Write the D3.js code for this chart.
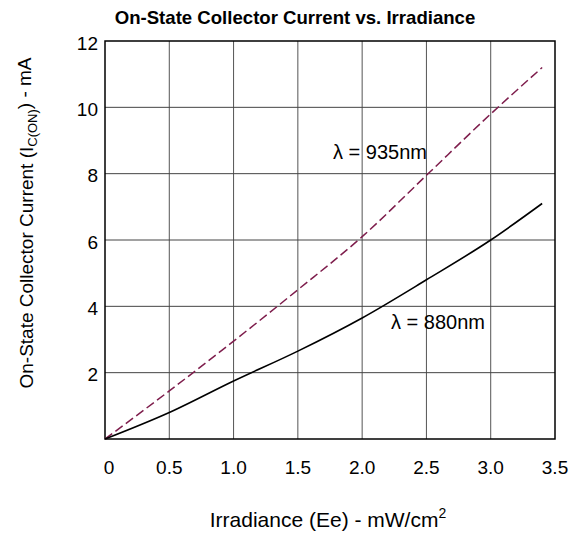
<!DOCTYPE html>
<html>
<head>
<meta charset="utf-8">
<script src="https://cdn.jsdelivr.net/npm/d3@7"></script>
<style>
  body { margin: 0; background: #fff; }
  text { font-family: Arial, "Liberation Sans", sans-serif; }
</style>
</head>
<body>
<div id="chart"></div>
<script>
// valores
const irradiance = [0, 0.5, 1.0, 1.5, 2.0, 2.5, 3.0, 3.4];
const current935 = [0, 1.45, 2.95, 4.5, 6.1, 7.95, 9.8, 11.2];
const current880 = [0, 0.8, 1.75, 2.65, 3.65, 4.8, 6.0, 7.1];
const xTicks = [0, 0.5, 1.0, 1.5, 2.0, 2.5, 3.0, 3.5];
const xTickLabels = ["0", "0.5", "1.0", "1.5", "2.0", "2.5", "3.0", "3.5"];
const yTicks = [2, 4, 6, 8, 10, 12];

const WIDTH = 582;
const HEIGHT = 533;
const MARGIN = { top: 41, right: 27, bottom: 94, left: 105 };

const svg = d3.select("#chart").append("svg")
  .attr("width", WIDTH).attr("height", HEIGHT);

const x = d3.scaleLinear().domain([0, 3.5]).range([MARGIN.left, WIDTH - MARGIN.right]);
const y = d3.scaleLinear().domain([0, 12]).range([HEIGHT - MARGIN.bottom, MARGIN.top]);

// grid
svg.append("g")
  .selectAll("line")
  .data(xTicks.slice(1, -1))
  .join("line")
  .attr("x1", d => x(d)).attr("x2", d => x(d))
  .attr("y1", y(0)).attr("y2", y(12))
  .attr("stroke", "#555").attr("stroke-width", 1);

svg.append("g")
  .selectAll("line")
  .data(yTicks.slice(0, -1))
  .join("line")
  .attr("x1", x(0)).attr("x2", x(3.5))
  .attr("y1", d => y(d)).attr("y2", d => y(d))
  .attr("stroke", "#444").attr("stroke-width", 1);

// marco
svg.append("rect")
  .attr("x", x(0)).attr("y", y(12))
  .attr("width", x(3.5) - x(0)).attr("height", y(0) - y(12))
  .attr("fill", "none").attr("stroke", "#000").attr("stroke-width", 1.5);

// ticks
svg.append("g")
  .selectAll("text")
  .data(yTicks)
  .join("text")
  .attr("x", x(0) - 7)
  .attr("y", d => y(d) + 2)
  .attr("dy", "0.35em")
  .attr("text-anchor", "end")
  .attr("font-size", 19)
  .text(d => d);

svg.append("g")
  .selectAll("text")
  .data(xTicks)
  .join("text")
  .attr("x", (d, i) => x(d) + (i === 0 ? 4 : 0))
  .attr("y", y(0) + 28)
  .attr("dy", "0.35em")
  .attr("text-anchor", "middle")
  .attr("font-size", 19)
  .text((d, i) => xTickLabels[i]);

// curvas
const line = d3.line()
  .x((d, i) => x(irradiance[i]))
  .y(d => y(d))
  .curve(d3.curveMonotoneX);

svg.append("path")
  .attr("d", line(current935))
  .attr("fill", "none")
  .attr("stroke", "#7e1d4c")
  .attr("stroke-width", 1.5)
  .attr("stroke-dasharray", "9,4");

svg.append("path")
  .attr("d", line(current880))
  .attr("fill", "none")
  .attr("stroke", "#000")
  .attr("stroke-width", 1.6);

// etiquetas de curvas
svg.append("text")
  .attr("x", 333).attr("y", 152).attr("dy", "0.35em")
  .attr("font-size", 20)
  .text("λ = 935nm");

svg.append("text")
  .attr("x", 391).attr("y", 322).attr("dy", "0.35em")
  .attr("font-size", 20)
  .text("λ = 880nm");

// titulo
svg.append("text")
  .attr("x", 295).attr("y", 17).attr("dy", "0.35em")
  .attr("text-anchor", "middle")
  .attr("font-size", 18.6).attr("font-weight", "bold")
  .text("On-State Collector Current vs. Irradiance");

// eje x titulo
const xt = svg.append("text")
  .attr("x", 328).attr("y", 520).attr("dy", "0.35em")
  .attr("text-anchor", "middle")
  .attr("font-size", 21);
xt.append("tspan").text("Irradiance (Ee) - mW/cm");
xt.append("tspan").attr("font-size", 14).attr("dy", "-0.7em").text("2");

// eje y titulo
const yt = svg.append("text")
  .attr("transform", "translate(26,223) rotate(-90)")
  .attr("text-anchor", "middle")
  .attr("dy", "0.35em")
  .attr("font-size", 19);
yt.append("tspan").text("On-State Collector Current (I");
yt.append("tspan").attr("font-size", 13).attr("dy", "0.35em").text("C(ON)");
yt.append("tspan").attr("dy", "-0.35em").text(") - mA");
</script>
</body>
</html>
